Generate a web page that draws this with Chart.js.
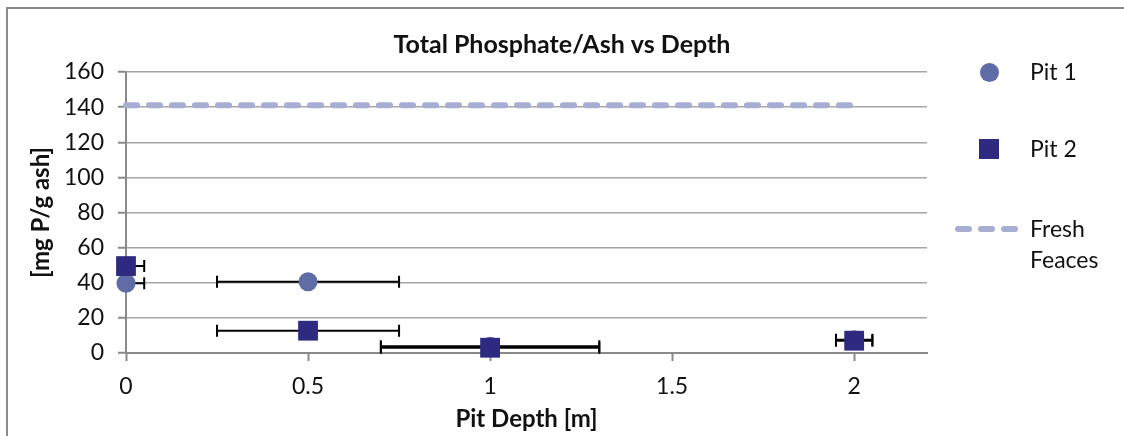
<!DOCTYPE html>
<html>
<head>
<meta charset="utf-8">
<script src="https://cdn.jsdelivr.net/npm/chart.js@4.4.0/dist/chart.umd.min.js"></script>
<style>
    body { margin: 0; background: #fff; font-family: Lato, sans-serif; }
    #marco { position: absolute; left: 6px; top: 7px; width: 1140px; height: 450px; border-left: 2px solid #8a8a8a; border-top: 2px solid #8a8a8a; }
    #grafica { position: absolute; left: 0; top: 0; }
    .item { position: absolute; left: 1030px; font-size: 23px; color: #111; line-height: 31px; }
    .punto { position: absolute; width: 19px; height: 19px; border-radius: 50%; background: #5f6ca6; left: 980px; top: 63px; }
    .cuadro { position: absolute; width: 20px; height: 20px; background: #2e2a82; left: 979px; top: 139px; }
    .guion { position: absolute; width: 17px; height: 6px; border-radius: 3px; background: #a7aed2; top: 226px; }
</style>
</head>
<body>
<div id="marco"></div>
<canvas id="grafica" width="1124" height="436"></canvas>
<div class="punto"></div>
<div class="item" style="top:56px">Pit 1</div>
<div class="cuadro"></div>
<div class="item" style="top:133px">Pit 2</div>
<div class="guion" style="left:955px"></div>
<div class="guion" style="left:978px"></div>
<div class="guion" style="left:1001px"></div>
<div class="item" style="top:213px">Fresh<br>Feaces</div>
<script>
// datos
const profundidades = [0, 0.5, 1, 2]
const pit1 = [39.7, 40.6, 3.8, 7.5]
const pit2 = [49.5, 12.7, 3, 7]
const errorPit1 = [0.05, 0.25, 0.3, 0.05]
const errorPit2 = [0.05, 0.25, 0.3, 0.05]
const frescoX = [0, 2]
const fresco = [141, 141]
const ticksX = [0, 0.5, 1, 1.5, 2]
const ticksY = [0, 20, 40, 60, 80, 100, 120, 140, 160]

const fuente = 'Lato'

function puntos(xs, ys) {
    return xs.map((x, i) => ({ x: x, y: ys[i] }))
}

const barrasError = {
    id: 'barrasError',
    beforeDatasetsDraw(chart) {
        const { ctx, chartArea, scales } = chart
        const x = scales.x
        const y = scales.y
        ctx.save()
        ctx.beginPath()
        ctx.rect(chartArea.left, chartArea.top - 20, chartArea.right - chartArea.left, chartArea.bottom - chartArea.top + 40)
        ctx.clip()
        ctx.strokeStyle = '#000'
        ctx.lineWidth = 2
        const series = [[pit1, errorPit1], [pit2, errorPit2]]
        for (const [valores, errores] of series) {
            profundidades.forEach((d, i) => {
                const py = y.getPixelForValue(valores[i])
                const x1 = x.getPixelForValue(d - errores[i])
                const x2 = x.getPixelForValue(d + errores[i])
                ctx.beginPath()
                ctx.moveTo(x1, py)
                ctx.lineTo(x2, py)
                ctx.moveTo(x1, py - 6)
                ctx.lineTo(x1, py + 6)
                ctx.moveTo(x2, py - 6)
                ctx.lineTo(x2, py + 6)
                ctx.stroke()
            })
        }
        ctx.restore()
    }
}

const config = {
    type: 'scatter',
    data: {
        datasets: [
            {
                label: 'Pit 1',
                data: puntos(profundidades, pit1),
                pointStyle: 'circle',
                pointRadius: 9.5,
                backgroundColor: '#5f6ca6',
                borderWidth: 0,
                clip: false,
                order: 1
            },
            {
                label: 'Pit 2',
                data: puntos(profundidades, pit2),
                pointStyle: 'rect',
                pointRadius: 14,
                backgroundColor: '#2e2a82',
                borderWidth: 0,
                clip: false,
                order: 0
            },
            {
                label: 'Fresh Feaces',
                data: puntos(frescoX, fresco),
                showLine: true,
                pointRadius: 0,
                borderColor: '#a7aed2',
                borderWidth: 6,
                borderDash: [11, 12],
                borderCapStyle: 'round',
                clip: false,
                order: 2
            }
        ]
    },
    options: {
        responsive: false,
        animation: false,
        layout: { padding: 0 },
        plugins: {
            legend: { display: false },
            tooltip: { enabled: false },
            title: {
                display: true,
                text: 'Total Phosphate/Ash vs Depth',
                color: '#111',
                font: { family: fuente, size: 25, weight: 'bold' },
                padding: { top: 30, bottom: 12 }
            }
        },
        scales: {
            x: {
                type: 'linear',
                min: 0,
                max: 2.2,
                afterBuildTicks: (scale) => { scale.ticks = ticksX.map(v => ({ value: v })) },
                afterFit: (scale) => { scale.height = 83 },
                grid: { drawOnChartArea: false, tickLength: 8, tickColor: '#8a8a8a', tickWidth: 2 },
                border: { color: '#8a8a8a', width: 2 },
                ticks: {
                    color: '#111',
                    padding: 12,
                    font: { family: fuente, size: 23 },
                    maxRotation: 0,
                    callback: (valor) => String(valor)
                },
                title: {
                    display: true,
                    text: 'Pit Depth [m]',
                    color: '#111',
                    font: { family: fuente, size: 24, weight: 'bold' },
                    padding: { top: 0, bottom: 2.6 }
                }
            },
            y: {
                min: 0,
                max: 160,
                afterBuildTicks: (scale) => { scale.ticks = ticksY.map(v => ({ value: v })) },
                afterFit: (scale) => { scale.width = 126 },
                grid: { color: '#a6a6a6', lineWidth: 1.5, tickLength: 8, tickColor: '#8a8a8a', tickWidth: 2 },
                border: { color: '#8a8a8a', width: 2 },
                ticks: { color: '#111', padding: 14, font: { family: fuente, size: 23 } },
                title: {
                    display: true,
                    text: '[mg P/g ash]',
                    color: '#111',
                    font: { family: fuente, size: 24, weight: 'bold' },
                    padding: { top: 26.6, bottom: 0 }
                }
            },
            // eje vacio a la derecha: deja sitio para la leyenda
            espacio: {
                type: 'linear',
                axis: 'y',
                position: 'right',
                afterFit: (scale) => { scale.width = 197 },
                ticks: { display: false },
                grid: { display: false },
                border: { display: false }
            }
        }
    },
    plugins: [barrasError]
}

new Chart(document.getElementById('grafica'), config)
</script>
</body>
</html>
